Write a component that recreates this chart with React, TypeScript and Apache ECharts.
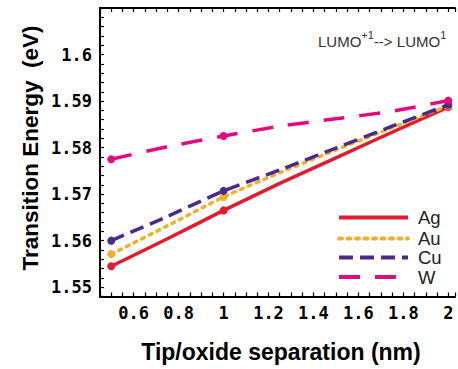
import React, { useEffect, useRef } from "react";
import * as echarts from "echarts";

const xValues = [0.5, 0.75, 1, 1.25, 1.5, 1.75, 2];
const agValues = [1.5545, 1.5604, 1.5665, 1.5723, 1.5778, 1.5833, 1.5887];
const auValues = [1.5571, 1.5632, 1.5694, 1.5746, 1.5795, 1.5843, 1.589];
const cuValues = [1.56, 1.5652, 1.5707, 1.5752, 1.5799, 1.5846, 1.5892];
const wValues = [1.5775, 1.5802, 1.5825, 1.5846, 1.5862, 1.5878, 1.5901];
const markedX = [0.5, 1, 2];
const seriesNames = ["Ag", "Au", "Cu", "W"];
const seriesColors = ["#e31b2e", "#f0b027", "#4b2a8c", "#e5097f"];

const xTitle = "Tip/oxide separation (nm)";
const yTitle = "Transition Energy  (eV)";

export default function App() {
  const ref = useRef<HTMLDivElement>(null);
  useEffect(() => {
    if (!ref.current) return;
    const chart = echarts.init(ref.current, undefined, { renderer: "svg" });
    const all = [agValues, auValues, cuValues, wValues];
    const dashes: any[] = ["solid", [3, 5.5], [14, 7], [21, 15]];
    const caps = ["butt", "round", "butt", "butt"];
    const mkData = (vals: number[]) =>
      xValues.map((x, i) =>
        markedX.includes(x)
          ? { value: [x, vals[i]], symbol: "circle", symbolSize: 8 }
          : { value: [x, vals[i]], symbol: "none" }
      );
    const series = all.map((vals, k) => ({
      type: "line",
      name: seriesNames[k],
      data: mkData(vals),
      smooth: 0.15,
      symbol: "none",
      showSymbol: true,
      itemStyle: { color: seriesColors[k] },
      lineStyle: {
        color: seriesColors[k],
        width: 3.5,
        type: dashes[k],
        cap: caps[k],
      },
      z: 2 + k,
    }));

    const isMult = (v: number, m: number) =>
      Math.abs(v / m - Math.round(v / m)) < 1e-6;
    const fmt = (v: number) => String(Number(v.toFixed(2)));

    const tickFont = {
      fontFamily: "DejaVu Sans Mono",
      fontWeight: "bold" as const,
      fontSize: 17,
      color: "#000",
    };

    const legendX0 = 339;
    const legendX1 = 408;
    const legendYs = [217.5, 238.5, 257.5, 277];
    const graphics: any[] = [];
    legendYs.forEach((y, k) => {
      graphics.push({
        type: "line",
        shape: { x1: legendX0, y1: y, x2: legendX1, y2: y },
        style: {
          stroke: seriesColors[k],
          lineWidth: 4,
          lineDash: k === 0 ? null : dashes[k],
          lineCap: caps[k],
        },
        z: 10,
      });
      graphics.push({
        type: "text",
        x: 418,
        y: y,
        style: {
          text: seriesNames[k],
          fontFamily: "Liberation Sans",
          fontSize: 18.5,
          lineHeight: 18.5,
          fill: "#222",
          verticalAlign: "middle",
        },
        z: 10,
      });
    });
    graphics.push({
      type: "text",
      x: 318,
      y: 39,
      style: {
        text: "{a|LUMO}{s|+1}{a|--> LUMO}{s|1}",
        align: "left",
        verticalAlign: "middle",
        rich: {
          a: { fontFamily: "Liberation Sans", fontSize: 15, lineHeight: 19, fill: "#333", verticalAlign: "bottom" },
          s: { fontFamily: "Liberation Sans", fontSize: 11, lineHeight: 11, fill: "#333", verticalAlign: "top" },
        },
      },
    });
    graphics.push({
      type: "text",
      x: 281,
      y: 352,
      style: {
        text: xTitle,
        fontFamily: "Liberation Sans",
        fontWeight: "bold",
        fontSize: 23,
        fill: "#000",
        align: "center",
        verticalAlign: "middle",
      },
    });
    graphics.push({
      type: "text",
      x: 30,
      y: 148,
      rotation: Math.PI / 2,
      style: {
        text: yTitle,
        fontFamily: "Liberation Sans",
        fontWeight: "bold",
        fontSize: 22.5,
        fill: "#000",
        align: "center",
        verticalAlign: "middle",
      },
    });

    const axisCommon = {
      axisLine: { show: true, onZero: false, lineStyle: { color: "#000", width: 2 } },
      axisTick: { show: true, inside: true, length: 4, lineStyle: { color: "#000", width: 1.2 } },
      splitLine: { show: false },
    };

    chart.setOption({
      animation: false,
      backgroundColor: "#fff",
      grid: { left: 100, right: 0, top: 8, bottom: 72.5 },
      xAxis: [
        {
          type: "value",
          min: 0.45,
          max: 2.03,
          interval: 0.05,
          ...axisCommon,
          axisLabel: {
            ...tickFont,
            margin: 8,
            formatter: (v: number) => (isMult(v, 0.2) && v < 2.01 ? fmt(v) : ""),
          },
        },
        {
          type: "value",
          position: "top",
          min: 0.45,
          max: 2.03,
          interval: 0.05,
          ...axisCommon,
          axisLabel: { show: false },
        },
      ],
      yAxis: {
        type: "value",
        min: 1.548,
        max: 1.61,
        interval: 0.002,
        ...axisCommon,
        axisLabel: {
          ...tickFont,
          margin: 8,
          formatter: (v: number) => (isMult(v, 0.01) && v < 1.605 ? fmt(v) : ""),
        },
      },
      series,
      graphic: graphics,
    });
    return () => chart.dispose();
  }, []);
  return (
    <div
      ref={ref}
      style={{ position: "fixed", left: 0, top: 0, width: 458, height: 369 }}
    />
  );
}
